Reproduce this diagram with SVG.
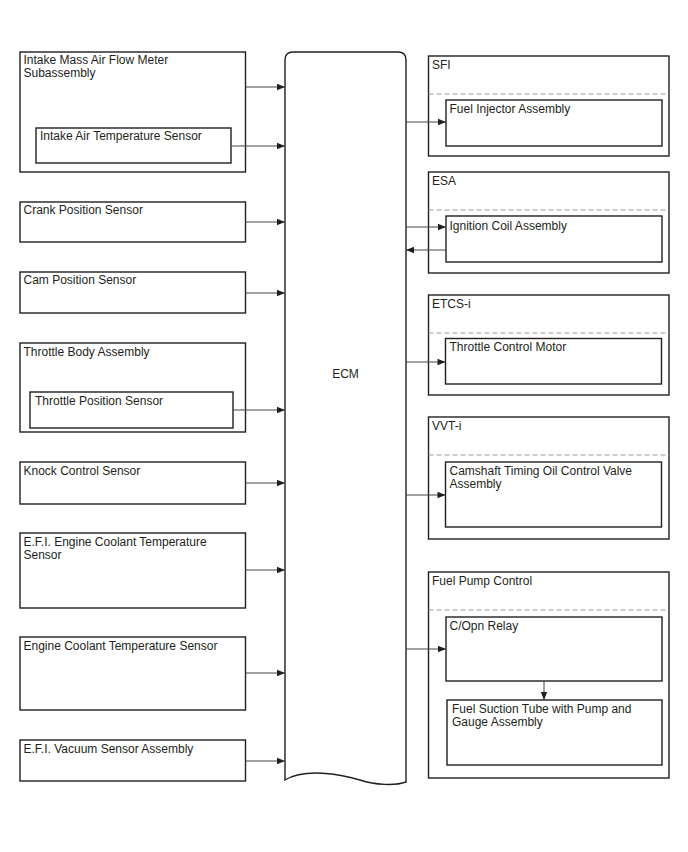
<svg xmlns="http://www.w3.org/2000/svg" width="688" height="852" viewBox="0 0 688 852">
<defs>
<marker id="ah" viewBox="0 0 10 10" refX="10" refY="5" markerWidth="10" markerHeight="8" markerUnits="userSpaceOnUse" orient="auto">
<path d="M0,1 L10,5 L0,9 Z" fill="#231f20"/>
</marker>
<style>
.box{fill:#fff;stroke:#231f20;stroke-width:1.4}
.dash{stroke:#9a9a9a;stroke-width:1.2;stroke-dasharray:5,3;fill:none}
.t{font-family:"Liberation Sans",Arial,sans-serif;font-size:12px;fill:#231f20}
.c{stroke:#444;stroke-width:1;fill:none;marker-end:url(#ah)}
</style>
</defs>
<rect width="688" height="852" fill="#fff"/>

<g id="ecm">
<path class="box" d="M285,60 Q285,52 293,52 L398,52 Q406,52 406,60 L406,782 C395,786 375,785 360,780 C340,774 305,768 285,780 Z"/>
<text class="t" x="345.5" y="378" text-anchor="middle">ECM</text>
</g>

<g id="maf">
<rect class="box" x="20" y="52" width="225.5" height="120"/>
<text class="t" x="23.5" y="64">Intake Mass Air Flow Meter</text>
<text class="t" x="23.5" y="77">Subassembly</text>
</g>
<g id="iat">
<rect class="box" x="36" y="128" width="195" height="35"/>
<text class="t" x="40" y="140">Intake Air Temperature Sensor</text>
</g>
<g id="crank">
<rect class="box" x="20" y="202" width="225.5" height="40"/>
<text class="t" x="23.5" y="214">Crank Position Sensor</text>
</g>
<g id="cam">
<rect class="box" x="20" y="272" width="225.5" height="41"/>
<text class="t" x="23.5" y="284">Cam Position Sensor</text>
</g>
<g id="throttlebody">
<rect class="box" x="20" y="343" width="225.5" height="89"/>
<text class="t" x="23.5" y="356">Throttle Body Assembly</text>
</g>
<g id="tps">
<rect class="box" x="30" y="392" width="203" height="36"/>
<text class="t" x="35" y="405">Throttle Position Sensor</text>
</g>
<g id="knock">
<rect class="box" x="20" y="462" width="225.5" height="42"/>
<text class="t" x="23.5" y="475">Knock Control Sensor</text>
</g>
<g id="efiect">
<rect class="box" x="20" y="533" width="225.5" height="75"/>
<text class="t" x="23.5" y="546">E.F.I. Engine Coolant Temperature</text>
<text class="t" x="23.5" y="559">Sensor</text>
</g>
<g id="ect">
<rect class="box" x="20" y="637" width="225.5" height="73"/>
<text class="t" x="23.5" y="650">Engine Coolant Temperature Sensor</text>
</g>
<g id="vacuum">
<rect class="box" x="20" y="740" width="225.5" height="41"/>
<text class="t" x="23.5" y="753">E.F.I. Vacuum Sensor Assembly</text>
</g>

<g id="sfi">
<rect class="box" x="428.5" y="56" width="240.5" height="100"/>
<text class="t" x="432" y="69">SFI</text>
<line class="dash" x1="428.5" y1="94" x2="669" y2="94"/>
</g>
<g id="injector">
<rect class="box" x="446" y="100" width="216" height="46"/>
<text class="t" x="449.5" y="113">Fuel Injector Assembly</text>
</g>
<g id="esa">
<rect class="box" x="428.5" y="172" width="240.5" height="101"/>
<text class="t" x="432" y="185">ESA</text>
<line class="dash" x1="428.5" y1="210" x2="669" y2="210"/>
</g>
<g id="ignition">
<rect class="box" x="446" y="216" width="216" height="46"/>
<text class="t" x="449.5" y="230">Ignition Coil Assembly</text>
</g>
<g id="etcs">
<rect class="box" x="428.5" y="295" width="240.5" height="100"/>
<text class="t" x="432" y="308">ETCS-i</text>
<line class="dash" x1="428.5" y1="333" x2="669" y2="333"/>
</g>
<g id="tcm">
<rect class="box" x="445.5" y="338.5" width="216" height="45.5"/>
<text class="t" x="449.5" y="351">Throttle Control Motor</text>
</g>
<g id="vvt">
<rect class="box" x="428.5" y="417" width="240.5" height="122"/>
<text class="t" x="432" y="430">VVT-i</text>
<line class="dash" x1="428.5" y1="455" x2="669" y2="455"/>
</g>
<g id="ocv">
<rect class="box" x="445.5" y="462" width="216" height="65"/>
<text class="t" x="449.5" y="475">Camshaft Timing Oil Control Valve</text>
<text class="t" x="449.5" y="488">Assembly</text>
</g>
<g id="fpc">
<rect class="box" x="428.5" y="572" width="240.5" height="206"/>
<text class="t" x="432" y="585">Fuel Pump Control</text>
<line class="dash" x1="428.5" y1="610" x2="669" y2="610"/>
</g>
<g id="copn">
<rect class="box" x="446" y="617" width="216" height="64"/>
<text class="t" x="449.5" y="630">C/Opn Relay</text>
</g>
<g id="pump">
<rect class="box" x="447" y="700" width="215" height="65"/>
<text class="t" x="452" y="713">Fuel Suction Tube with Pump and</text>
<text class="t" x="452" y="726">Gauge Assembly</text>
</g>

<g id="connectors">
<line class="c" x1="245.5" y1="87" x2="285" y2="87"/>
<line class="c" x1="231" y1="146" x2="285" y2="146"/>
<line class="c" x1="245.5" y1="222" x2="285" y2="222"/>
<line class="c" x1="245.5" y1="293" x2="285" y2="293"/>
<line class="c" x1="233" y1="410" x2="285" y2="410"/>
<line class="c" x1="245.5" y1="483" x2="285" y2="483"/>
<line class="c" x1="245.5" y1="570" x2="285" y2="570"/>
<line class="c" x1="245.5" y1="673" x2="285" y2="673"/>
<line class="c" x1="245.5" y1="761" x2="285" y2="761"/>
<line class="c" x1="406" y1="122" x2="446" y2="122"/>
<line class="c" x1="406" y1="227" x2="446" y2="227"/>
<line class="c" x1="446" y1="250" x2="406" y2="250"/>
<line class="c" x1="406" y1="362" x2="445.5" y2="362"/>
<line class="c" x1="406" y1="495" x2="445.5" y2="495"/>
<line class="c" x1="406" y1="649" x2="446" y2="649"/>
<line class="c" x1="544" y1="681" x2="544" y2="700"/>
</g>
</svg>
